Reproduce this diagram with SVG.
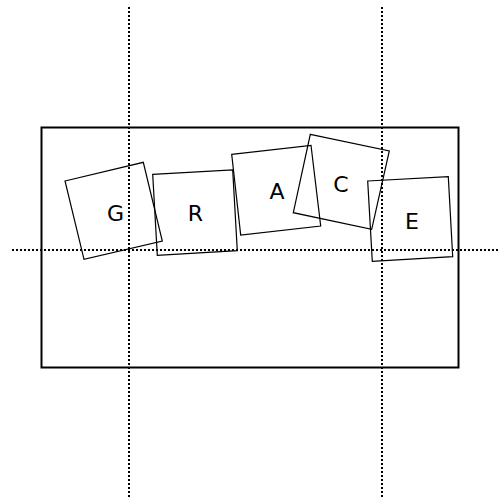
<svg xmlns="http://www.w3.org/2000/svg" width="500" height="500" viewBox="0 0 500 500">
<style>
.tile{fill:none;stroke:#000;stroke-width:1.2}
.lbl{font-family:"DejaVu Sans","Liberation Sans",sans-serif;font-size:22px;fill:#000;text-anchor:middle}
.guide{stroke:#000;stroke-width:2;stroke-dasharray:2 2;fill:none}
</style>
<rect width="500" height="500" fill="#fff"/>
<rect id="frame" x="41.5" y="127.5" width="417" height="240" fill="none" stroke="#000" stroke-width="2"/>
<g id="guides">
<line class="guide" x1="129" y1="7" x2="129" y2="498"/>
<line class="guide" x1="382" y1="7" x2="382" y2="498"/>
<line class="guide" x1="12" y1="250" x2="500" y2="250"/>
</g>
<g id="tile-G">
<polygon class="tile" points="65,181 143.3,162.3 162.3,241 84,259.3"/>
<text class="lbl" x="115.5" y="221">G</text>
</g>
<g id="tile-R">
<polygon class="tile" points="152.7,174.3 232.7,170 237.3,250.7 157.3,255.3"/>
<text class="lbl" x="195.5" y="221">R</text>
</g>
<g id="tile-A">
<polygon class="tile" points="231.7,154.3 311,145.3 320.7,226 240.7,235"/>
<text class="lbl" x="277" y="199">A</text>
</g>
<g id="tile-C">
<polygon class="tile" points="310.3,134.3 389.3,151 371.7,229.3 293.3,212.7"/>
<text class="lbl" x="341" y="192">C</text>
</g>
<g id="tile-E">
<polygon class="tile" points="367.7,181 448.3,176.7 452.7,256.7 372.3,261.3"/>
<text class="lbl" x="412" y="228.5">E</text>
</g>
</svg>
